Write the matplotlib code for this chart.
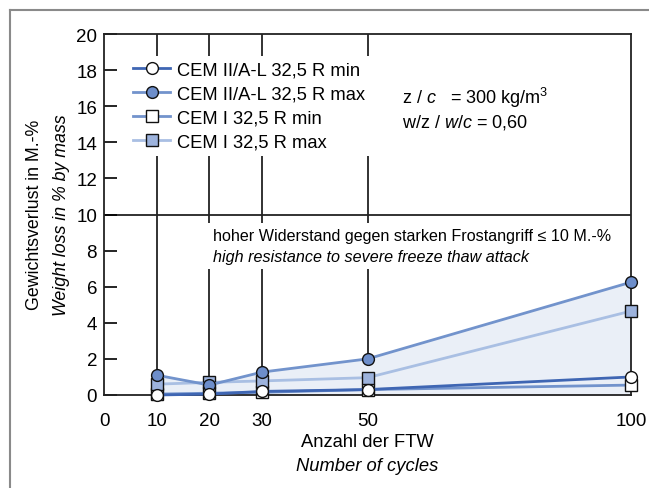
# frost resistance chart: weight loss vs freeze thaw cycles

import numpy as np
import matplotlib
matplotlib.use("Agg")
import matplotlib.pyplot as plt
from matplotlib.lines import Line2D

plt.rcParams['font.family'] = ['Liberation Sans', 'DejaVu Sans']
plt.rcParams['mathtext.fontset'] = 'custom'
plt.rcParams['mathtext.rm'] = 'Liberation Sans'
plt.rcParams['mathtext.it'] = 'Liberation Sans:italic'

# data
cycles = [10, 20, 30, 50, 100]
cem2_min = [0.0, 0.05, 0.2, 0.3, 1.0]
cem2_max = [1.1, 0.55, 1.27, 2.0, 6.25]
cem1_min = [0.05, 0.1, 0.15, 0.3, 0.55]
cem1_max = [0.6, 0.7, 0.78, 0.96, 4.65]

labels = ["CEM II/A-L 32,5 R min", "CEM II/A-L 32,5 R max",
          "CEM I 32,5 R min", "CEM I 32,5 R max"]
xticks = [0, 10, 20, 30, 50, 100]
yticks = [0, 2, 4, 6, 8, 10, 12, 14, 16, 18, 20]

dark = '#3f66b3'
medium = '#7293cc'
light = '#a9bfe3'

W, H = 649, 489
fig = plt.figure(figsize=(W / 100, H / 100), dpi=100)
ax = fig.add_axes([104 / W, 1 - 396 / H, 527 / W, 361 / H])

# shaded band up to the highest values
upper = np.maximum(cem2_max, cem1_max)
ax.fill_between(cycles, 0, upper, color='#eaeff7', lw=0, zorder=1)

# vertical guide lines from the top down to the max marker
ax.vlines(cycles[:-1], upper[:-1], 20, color='#222222', lw=1.3, zorder=1.5)
ax.axhline(10, color='#222222', lw=1.3, zorder=1.5)

kw = dict(markeredgecolor='#111111', markeredgewidth=1.0, ms=8.5, lw=2.0, clip_on=False)
h_i_min, = ax.plot(cycles, cem1_min, color=medium, marker='s', mfc='white', zorder=3, **kw)
h_i_max, = ax.plot(cycles, cem1_max, color=light, marker='s', mfc='#9db3dd', zorder=3.2, **kw)
h_ii_max, = ax.plot(cycles, cem2_max, color=medium, marker='o', mfc='#6d8ecb', zorder=3.4, **kw)
h_ii_min, = ax.plot(cycles, cem2_min, color=dark, marker='o', mfc='white', zorder=3.6, **kw)

ax.set_xlim(0, 100)
ax.set_ylim(0, 20)
ax.set_xticks(xticks)
ax.set_yticks(yticks)
ax.tick_params(axis='x', length=0, pad=12, labelsize=13.5)
ax.tick_params(axis='y', direction='in', length=9, width=1.2, pad=5, labelsize=13.5)
for s in ax.spines.values():
    s.set_linewidth(1.3)
    s.set_color('#222222')

leg = ax.legend([h_ii_min, h_ii_max, h_i_min, h_i_max], labels,
                loc='upper left', bbox_to_anchor=(0.045, 0.94), fontsize=13.2,
                frameon=True, facecolor='white', edgecolor='none', framealpha=1,
                fancybox=False, handlelength=2.0, handletextpad=0.4,
                labelspacing=0.38, borderpad=0.3, borderaxespad=0)
leg.set_zorder(5)

def px(x, y):
    return x / W, 1 - y / H

# mix parameters
fig.text(*px(402, 98), r"z / $c$   = 300 kg/m$^3$", fontsize=13, va='center')
fig.text(*px(402, 123), r"w/z / $w/c$ = 0,60", fontsize=13, va='center')

box = dict(facecolor='white', edgecolor='none', pad=3.5)
ax.text(0.207, 0.442, "hoher Widerstand gegen starken Frostangriff \u2264 10 M.-%",
        transform=ax.transAxes, fontsize=11.6, va='center', bbox=box, zorder=4)
ax.text(0.207, 0.384, "high resistance to severe freeze thaw attack",
        transform=ax.transAxes, fontsize=11.6, va='center', style='italic',
        bbox=box, zorder=4)

# axis titles
ax.text(0.5, -0.13, "Anzahl der FTW", transform=ax.transAxes, fontsize=13.2,
        ha='center', va='center')
ax.text(0.5, -0.195, "Number of cycles", transform=ax.transAxes, fontsize=13.2,
        ha='center', va='center', style='italic')
fig.text(*px(35, 215), "Gewichtsverlust in M.-%", fontsize=12.8, rotation=90,
         ha='center', va='center')
fig.text(*px(61, 215), "Weight loss in % by mass", fontsize=12.8, rotation=90,
         ha='center', va='center', style='italic')

# outer gray frame (top and left only)
fig.add_artist(Line2D([9.5 / W, 9.5 / W], [0, 1 - 11 / H], transform=fig.transFigure,
                      color='#8a8a8a', lw=1.5))
fig.add_artist(Line2D([9.5 / W, 1], [1 - 11 / H, 1 - 11 / H], transform=fig.transFigure,
                      color='#8a8a8a', lw=1.5))

fig.savefig("out.png", dpi=100)
